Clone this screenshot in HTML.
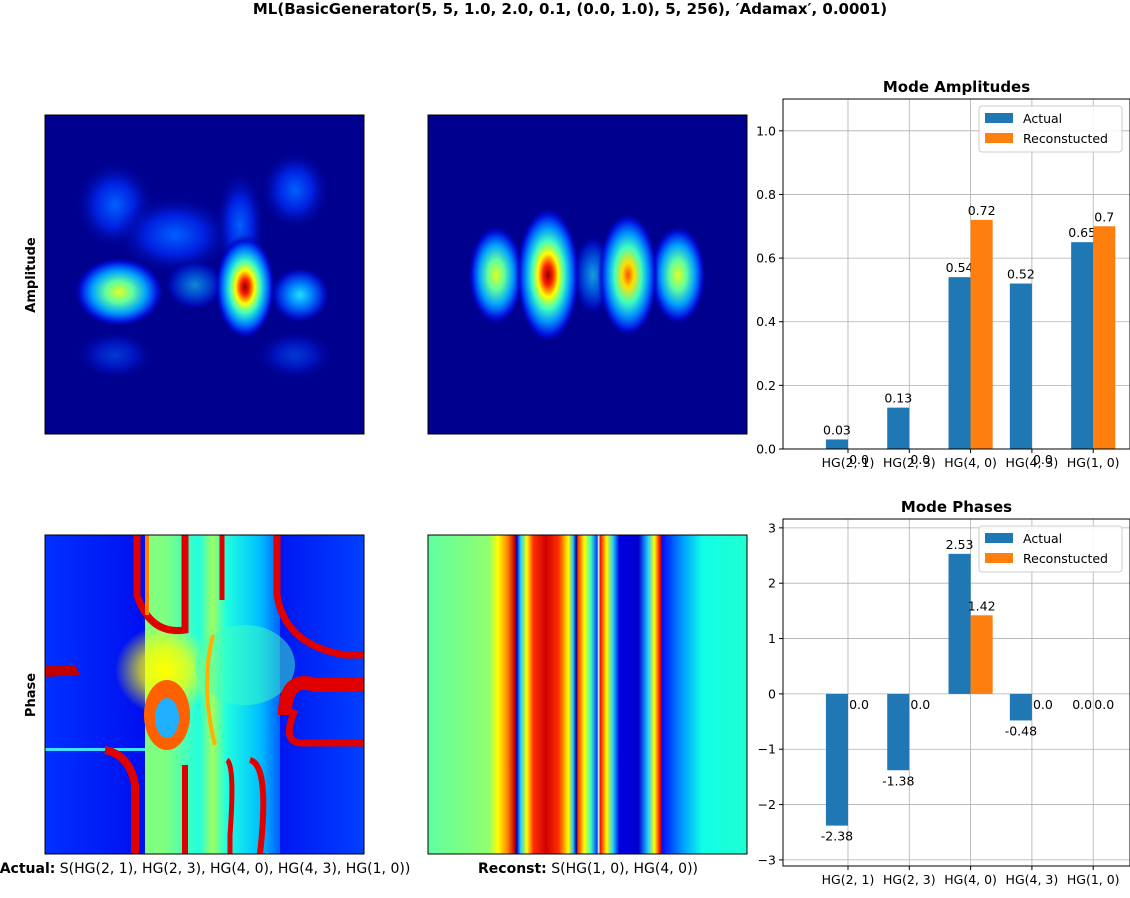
<!DOCTYPE html>
<html><head><meta charset="utf-8"><style>
body{margin:0;background:#fff;font-family:"Liberation Sans","DejaVu Sans",sans-serif}
svg text{font-family:"DejaVu Sans","Liberation Sans",sans-serif}
</style></head><body>
<svg id="root" width="1130" height="893" viewBox="0 0 1130 893" xmlns="http://www.w3.org/2000/svg">
<defs>
<radialGradient id="gRed"><stop offset="0" stop-color="#900000"/><stop offset="0.15" stop-color="#ff2000"/><stop offset="0.32" stop-color="#ffff00"/><stop offset="0.5" stop-color="#40ffc0"/><stop offset="0.7" stop-color="#0090ff"/><stop offset="0.88" stop-color="#0010e0"/><stop offset="1" stop-color="#00008f" stop-opacity="0"/></radialGradient>
<radialGradient id="gOr"><stop offset="0" stop-color="#ff5000"/><stop offset="0.2" stop-color="#ffe000"/><stop offset="0.45" stop-color="#40ffc0"/><stop offset="0.68" stop-color="#0090ff"/><stop offset="0.88" stop-color="#0010e0"/><stop offset="1" stop-color="#00008f" stop-opacity="0"/></radialGradient>
<radialGradient id="gYel"><stop offset="0" stop-color="#e0ff20"/><stop offset="0.3" stop-color="#60ffa0"/><stop offset="0.6" stop-color="#00a0ff"/><stop offset="0.85" stop-color="#0010e0"/><stop offset="1" stop-color="#00008f" stop-opacity="0"/></radialGradient>
<radialGradient id="gCy"><stop offset="0" stop-color="#20e0ff"/><stop offset="0.4" stop-color="#0080ff"/><stop offset="0.8" stop-color="#0010d0"/><stop offset="1" stop-color="#00008f" stop-opacity="0"/></radialGradient>
<radialGradient id="gLb"><stop offset="0" stop-color="#0060ff"/><stop offset="0.5" stop-color="#0020e0"/><stop offset="1" stop-color="#00008f" stop-opacity="0"/></radialGradient>
<linearGradient id="stripes" x1="0" x2="1" y1="0" y2="0">
<stop offset="0" stop-color="#60ffa0"/><stop offset="0.19" stop-color="#90ff70"/><stop offset="0.22" stop-color="#ffff00"/><stop offset="0.25" stop-color="#ff8000"/><stop offset="0.272" stop-color="#c00000"/><stop offset="0.278" stop-color="#0000c0"/><stop offset="0.29" stop-color="#20d0ff"/><stop offset="0.31" stop-color="#ffff00"/><stop offset="0.33" stop-color="#ff3000"/><stop offset="0.37" stop-color="#d00000"/><stop offset="0.41" stop-color="#ff3000"/><stop offset="0.44" stop-color="#ffff00"/><stop offset="0.455" stop-color="#20c0ff"/><stop offset="0.465" stop-color="#000090"/><stop offset="0.47" stop-color="#ff3000"/><stop offset="0.49" stop-color="#ffff00"/><stop offset="0.51" stop-color="#40ffc0"/><stop offset="0.53" stop-color="#0040ff"/><stop offset="0.535" stop-color="#e0ffff"/><stop offset="0.54" stop-color="#ff1000"/><stop offset="0.56" stop-color="#ffff00"/><stop offset="0.58" stop-color="#20d0ff"/><stop offset="0.6" stop-color="#0000e0"/><stop offset="0.66" stop-color="#0000d0"/><stop offset="0.69" stop-color="#20d0ff"/><stop offset="0.71" stop-color="#ffff00"/><stop offset="0.725" stop-color="#ff2000"/><stop offset="0.73" stop-color="#c00000"/><stop offset="0.735" stop-color="#0010ff"/><stop offset="0.8" stop-color="#00a0ff"/><stop offset="0.86" stop-color="#10ffe8"/><stop offset="1" stop-color="#20ffd0"/>
</linearGradient>
<linearGradient id="phBg" x1="0" x2="1"><stop offset="0" stop-color="#0030ff"/><stop offset="0.3" stop-color="#0010f0"/><stop offset="0.7" stop-color="#0010f0"/><stop offset="1" stop-color="#0040ff"/></linearGradient>
<linearGradient id="cyBand" x1="0" x2="1"><stop offset="0" stop-color="#80ff80"/><stop offset="0.15" stop-color="#80ff80"/><stop offset="0.4" stop-color="#20ffe0"/><stop offset="0.5" stop-color="#a0ff60"/><stop offset="0.6" stop-color="#20ffe0"/><stop offset="0.85" stop-color="#00c0ff"/><stop offset="1" stop-color="#0060ff"/></linearGradient>
<radialGradient id="yelGlow"><stop offset="0" stop-color="#ffff00"/><stop offset="0.5" stop-color="#ffff00" stop-opacity="0.7"/><stop offset="1" stop-color="#ffff00" stop-opacity="0"/></radialGradient>
<clipPath id="c1"><rect x="0" y="0" width="319" height="319"/></clipPath>
</defs>

<text x="570" y="14" text-anchor="middle" font-size="15" font-weight="bold">ML(BasicGenerator(5, 5, 1.0, 2.0, 0.1, (0.0, 1.0), 5, 256), ′Adamax′, 0.0001)</text>

<g transform="translate(45,115)" clip-path="url(#c1)">
<rect width="319" height="319" fill="#00008f"/>
<ellipse cx="70" cy="90" rx="40" ry="45" fill="url(#gLb)"/>
<ellipse cx="250" cy="75" rx="35" ry="40" fill="url(#gLb)"/>
<ellipse cx="130" cy="120" rx="60" ry="40" fill="url(#gLb)"/>
<ellipse cx="195" cy="110" rx="25" ry="55" fill="url(#gLb)"/>
<ellipse cx="70" cy="240" rx="40" ry="25" fill="url(#gLb)" opacity="0.6"/>
<ellipse cx="250" cy="240" rx="40" ry="25" fill="url(#gLb)" opacity="0.6"/>
<ellipse cx="150" cy="170" rx="30" ry="25" fill="url(#gCy)" opacity="0.6"/>
<ellipse cx="74" cy="177" rx="45" ry="35" fill="url(#gYel)"/>
<ellipse cx="255" cy="180" rx="30" ry="28" fill="url(#gCy)"/>
<ellipse cx="200" cy="172" rx="30" ry="52" fill="url(#gRed)"/>
</g>
<rect x="45" y="115" width="319" height="319" fill="none" stroke="#000" stroke-width="1"/>

<g transform="translate(428,115)" clip-path="url(#c1)">
<rect width="319" height="319" fill="#00008f"/>
<ellipse cx="68" cy="160" rx="28" ry="50" fill="url(#gYel)"/>
<ellipse cx="165" cy="160" rx="20" ry="40" fill="url(#gCy)" opacity="0.7"/>
<ellipse cx="250" cy="160" rx="28" ry="50" fill="url(#gYel)"/>
<ellipse cx="120" cy="160" rx="32" ry="68" fill="url(#gRed)"/>
<ellipse cx="200" cy="160" rx="30" ry="62" fill="url(#gOr)"/>
</g>
<rect x="428" y="115" width="319" height="319" fill="none" stroke="#000"/>

<g transform="translate(45,535)" clip-path="url(#c1)">
<rect width="319" height="319" fill="url(#phBg)"/>
<rect x="100" y="0" width="135" height="319" fill="url(#cyBand)"/>
<ellipse cx="120" cy="135" rx="50" ry="45" fill="url(#yelGlow)"/>
<ellipse cx="200" cy="130" rx="50" ry="40" fill="#40ffc0" opacity="0.5"/>
<path d="M92,0 V60 Q105,100 140,95 V0" fill="none" stroke="#e00000" stroke-width="7"/>
<path d="M102,0 V80" fill="none" stroke="#ff8000" stroke-width="4"/>
<path d="M177,0 V65" stroke="#e00000" stroke-width="5"/>
<path d="M232,0 V60 Q240,110 300,120 H319" fill="none" stroke="#e00000" stroke-width="7"/>
<path d="M240,180 Q240,140 270,150 H319" fill="none" stroke="#e00000" stroke-width="14"/>
<path d="M250,175 Q235,210 260,208 H319" fill="none" stroke="#e00000" stroke-width="7"/>
<path d="M0,130 H30 L35,140 L0,142 Z" fill="#c00000"/>
<ellipse cx="122" cy="180" rx="23" ry="35" fill="#ff6000"/>
<ellipse cx="122" cy="183" rx="12" ry="20" fill="#20b0ff"/>
<rect x="0" y="213" width="100" height="3" fill="#40e0ff"/>
<path d="M60,215 Q85,220 90,250 V319" fill="none" stroke="#e00000" stroke-width="8"/>
<path d="M140,230 V319" stroke="#e00000" stroke-width="6"/>
<path d="M182,225 Q190,230 185,300 V319" fill="none" stroke="#e00000" stroke-width="5"/>
<path d="M205,225 Q225,230 215,319" fill="none" stroke="#e00000" stroke-width="6"/>
<path d="M168,100 Q155,150 170,210" fill="none" stroke="#ffb000" stroke-width="4"/>
</g>
<rect x="45" y="535" width="319" height="319" fill="none" stroke="#000"/>

<rect x="428" y="535" width="319" height="319" fill="url(#stripes)" stroke="#000"/>

<text transform="translate(35,275) rotate(-90)" text-anchor="middle" font-size="13" font-weight="bold">Amplitude</text>
<text transform="translate(35,695) rotate(-90)" text-anchor="middle" font-size="13" font-weight="bold">Phase</text>
<text x="205" y="873" text-anchor="middle" font-size="14"><tspan font-weight="bold">Actual:</tspan> S(HG(2, 1), HG(2, 3), HG(4, 0), HG(4, 3), HG(1, 0))</text>
<text x="588" y="873" text-anchor="middle" font-size="14"><tspan font-weight="bold">Reconst:</tspan> S(HG(1, 0), HG(4, 0))</text>

<g id="ampChart"></g>
<g id="phChart"></g>
</svg>
<script>
const categories = ["HG(2, 1)","HG(2, 3)","HG(4, 0)","HG(4, 3)","HG(1, 0)"];
const ampActual = [0.03,0.13,0.54,0.52,0.65];
const ampRecon = [0.0,0.0,0.72,0.0,0.7];
const ampTicks = ["0.0","0.2","0.4","0.6","0.8","1.0"];
const phActual = [-2.38,-1.38,2.53,-0.48,0.0];
const phRecon = [0.0,0.0,1.42,0.0,0.0];
const phTicks = ["−3","−2","−1","0","1","2","3"];
const NS="http://www.w3.org/2000/svg";
function mk(tag, attrs, parent, txt){const e=document.createElementNS(NS,tag);for(const k in attrs)e.setAttribute(k,attrs[k]);if(txt!==undefined)e.textContent=txt;parent.appendChild(e);return e;}
function fmt(v){return Number.isInteger(v)?v.toFixed(1):String(v);}
function chart(g, title, left, top, right, bottom, ymin, ymax, ticks, act, rec, legY){
  const y=v=>bottom-(v-ymin)/(ymax-ymin)*(bottom-top);
  const n=categories.length;
  const xmin=-1.06, xmax=n-1+0.6;
  const x=i=>left+(i-xmin)/(xmax-xmin)*(right-left);
  const bw=(x(1)-x(0))*0.36;
  ticks.forEach(t=>{const v=parseFloat(t.replace("−","-"));const yy=y(v);
    const l=mk("line",{x1:left,x2:right,y1:yy,y2:yy,stroke:"#b0b0b0","stroke-width":0.8},g);
    
    
    mk("line",{x1:left-4,x2:left,y1:yy,y2:yy,stroke:"#000"},g);
    const tx=mk("text",{x:left-7,y:yy+4.5,"text-anchor":"end","font-size":12.5},g,t);
    
    
  });
  categories.forEach((c,i)=>{const xx=x(i);
    mk("line",{x1:xx,x2:xx,y1:top,y2:bottom,stroke:"#b0b0b0","stroke-width":0.8},g);
    mk("line",{x1:xx,x2:xx,y1:bottom,y2:bottom+4,stroke:"#000"},g);
    const tx=mk("text",{x:xx,y:bottom+18,"text-anchor":"middle","font-size":12.5},g,c);
    
    
  });
  [[act,"#1f77b4",-bw,"actual"],[rec,"#ff7f0e",0,"reconstructed"]].forEach(([arr,col,off,nm])=>{
    arr.forEach((v,i)=>{const x0=x(i)+off;const y0=y(0),y1=y(v);
      const r=mk("rect",{x:x0,y:Math.min(y0,y1),width:bw,height:Math.abs(y1-y0),fill:col},g);
      
      
      const ly=v>0?y1-5:y1+15;
      const t=mk("text",{x:x0+bw/2,y:ly,"text-anchor":"middle","font-size":12.5},g,fmt(v));
      
      
    });
  });
  mk("rect",{x:left,y:top,width:right-left,height:bottom-top,fill:"none",stroke:"#000","stroke-width":1},g);
  const tt=mk("text",{x:(left+right)/2,y:top-7,"text-anchor":"middle","font-size":15,"font-weight":"bold"},g,title);
  
  
  const lg=mk("g",{},g);
  
  
  mk("rect",{x:979,y:legY,width:143,height:46,rx:3,fill:"#fff","fill-opacity":0.85,stroke:"#ccc"},lg);
  mk("rect",{x:985,y:legY+7,width:28,height:10,fill:"#1f77b4"},lg);
  mk("text",{x:1023,y:legY+17,"font-size":12.5},lg,"Actual");
  mk("rect",{x:985,y:legY+27,width:28,height:10,fill:"#ff7f0e"},lg);
  mk("text",{x:1023,y:legY+37,"font-size":12.5},lg,"Reconstucted");
}
chart(document.getElementById("ampChart"),"Mode Amplitudes",783,99,1130,449,0,1.1,ampTicks,ampActual,ampRecon,106);
chart(document.getElementById("phChart"),"Mode Phases",783,519,1130,866,-3.11,3.16,phTicks,phActual,phRecon,526);
</script>
</body></html>
